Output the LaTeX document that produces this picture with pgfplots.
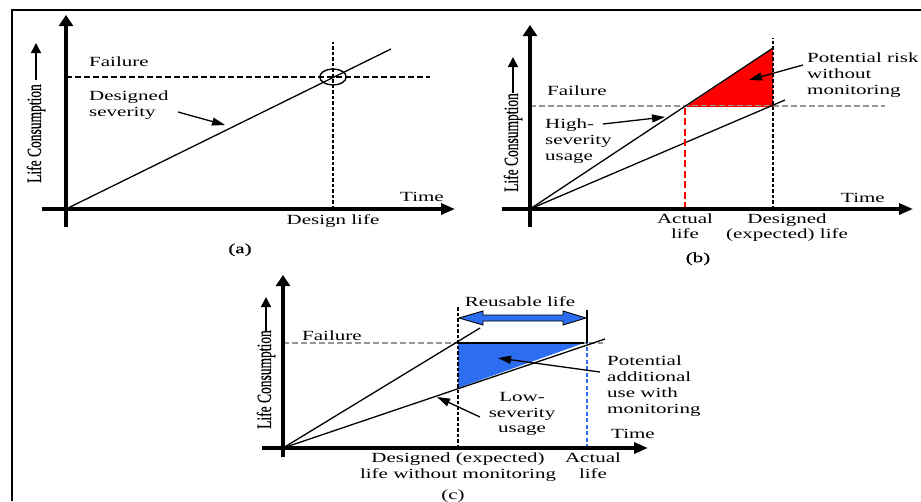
\documentclass[border=0pt]{standalone}
\usepackage{pgfplots}
\pgfplotsset{compat=1.18}
\usepackage{graphicx}
\usepackage{fontspec}
\setmainfont{Liberation Serif}
\newfontfamily\heavy[FakeBold=0.9]{Liberation Serif}
\newfontfamily\medium[FakeBold=0.4]{Liberation Serif}
\usetikzlibrary{arrows.meta}
\definecolor{myblue}{RGB}{45,110,240}
\definecolor{mygray}{RGB}{150,150,150}
\newcommand\SX{1.5}
\newcommand\TL[1]{\scalebox{\SX}[1]{\fontsize{14}{16}\selectfont\begin{tabular}{@{}l@{}}#1\end{tabular}}}
\newcommand\TC[1]{\scalebox{\SX}[1]{\fontsize{14}{15.5}\selectfont\begin{tabular}{@{}c@{}}#1\end{tabular}}}
\newcommand\YL{\scalebox{\SX}[1]{\rotatebox{90}{\medium\fontsize{13.5}{14}\selectfont Life Consumption}}}
\tikzset{lab/.style={inner sep=0pt}}
\pgfplotsset{
  panel/.style={scale only axis, axis lines=none, clip=false,
    xmin=-30, xmax=400, ymin=-25, ymax=200, width=430pt, height=225pt,
    anchor=south west},
  axarrowx/.style={line width=3.2pt, no marks, -{Triangle[length=14pt,width=11pt]}},
  axarrowy/.style={line width=3.2pt, no marks, -{Triangle[length=11pt,width=14pt]}},
  thn/.style={black, line width=1.3pt, no marks},
  ann/.style={black, line width=1.3pt, no marks, -{Triangle[length=13pt,width=8pt]}},
  yarr/.style={black, line width=1.6pt, no marks, -{Triangle[length=10pt,width=10pt]}},
}
\begin{document}
\begin{tikzpicture}
% ---------------- panel (a) ----------------
\begin{axis}[panel, at={(36pt,-234pt)}, every node/.append style={font=\heavy}]
  \addplot[thn, line width=1.2pt, dash pattern=on 6pt off 3pt] coordinates {(0,132) (364,132)};
  \addplot[thn, line width=1.2pt, dash pattern=on 3.5pt off 2pt] coordinates {(267,0) (267,167)};
  \addplot[thn] coordinates {(0,0) (325,160)};
  \addplot[only marks, mark=o, mark size=8pt, mark options={xscale=1.65, line width=1.4pt, black}] coordinates {(267,132)};
  \addplot[axarrowy] coordinates {(0,-18) (0,194)};
  \addplot[axarrowx] coordinates {(-24,0) (389,0)};
  \addplot[ann] coordinates {(112,97) (159,84)};
  \addplot[yarr] coordinates {(-30,129) (-30,166)};
  \node[lab] at (axis cs:-30,75.5) {\YL};
  \node[lab, anchor=west] at (axis cs:23,146) {\TL{Failure}};
  \node[lab, anchor=west] at (axis cs:23,103.5) {\TL{Designed\\severity}};
  \node[lab] at (axis cs:356,11) {\TL{Time}};
  \node[lab] at (axis cs:267,-12) {\TL{Design life}};
  \node[lab, font=\medium] at (axis cs:174,-41) {\TL{(a)}};
\end{axis}
% ---------------- panel (b) ----------------
\begin{axis}[panel, at={(500pt,-234pt)}, every node/.append style={font=\heavy}]
  \addplot[fill=red, draw=none] coordinates {(157,103) (243,161) (243,103)} -- cycle;
  \addplot[mygray, line width=1.2pt, no marks, dash pattern=on 6pt off 3pt] coordinates {(0,103) (355,103)};
  \addplot[red, line width=1pt, no marks] coordinates {(157,103) (243,103)};
  \addplot[thn] coordinates {(0,0) (243,161)};
  \addplot[thn] coordinates {(0,0) (255,109)};
  \addplot[red, line width=2.8pt, no marks, dash pattern=on 7pt off 3.5pt] coordinates {(155,0) (155,103)};
  \addplot[thn, line width=1.4pt, dash pattern=on 3.5pt off 2pt] coordinates {(243,0) (243,171)};
  \addplot[axarrowy] coordinates {(0,-18) (0,184)};
  \addplot[axarrowx] coordinates {(-28,0) (383,0)};
  \addplot[ann] coordinates {(73,85) (135,92)};
  \addplot[ann] coordinates {(273,144) (219,129)};
  \addplot[yarr] coordinates {(-17,116) (-17,152)};
  \node[lab] at (axis cs:-17,66.5) {\YL};
  \node[lab, anchor=west] at (axis cs:17,117) {\TL{Failure}};
  \node[lab, anchor=west] at (axis cs:15,68) {\TL{High-\\severity\\usage}};
  \node[lab, anchor=west] at (axis cs:277,134) {\TL{Potential risk\\without\\monitoring}};
  \node[lab] at (axis cs:333,10) {\TL{Time}};
  \node[lab] at (axis cs:155,-19) {\TC{Actual\\life}};
  \node[lab] at (axis cs:257,-19) {\TC{Designed\\(expected) life}};
  \node[lab, font=\medium] at (axis cs:168,-50) {\TL{(b)}};
\end{axis}
% ---------------- panel (c) ----------------
\begin{axis}[panel, at={(253pt,-473pt)}, every node/.append style={font=\medium}]
  \addplot[fill=myblue, draw=none] coordinates {(175,105) (301,105) (175,60)} -- cycle;
  \addplot[mygray, line width=1.1pt, no marks, dash pattern=on 6pt off 3pt] coordinates {(0,105) (320,105)};
  \addplot[thn] coordinates {(175,105) (301,105)};
  \addplot[thn] coordinates {(0,0) (197,120)};
  \addplot[thn] coordinates {(0,0) (322,109)};
  \addplot[thn, line width=1.4pt, dash pattern=on 3.5pt off 2pt] coordinates {(175,0) (175,143)};
  \addplot[myblue, line width=2.3pt, no marks, dash pattern=on 4pt off 2.5pt] coordinates {(304,0) (304,105)};
  \addplot[thn, line width=1.5pt] coordinates {(304,105) (304,138)};
  \addplot[fill=myblue, draw=black, line width=0.9pt] coordinates {(176,130) (200,137) (200,133) (280,133) (280,137) (303,130) (280,123) (280,127) (200,127) (200,123)} -- cycle;
  \addplot[axarrowy] coordinates {(0,-9) (0,173)};
  \addplot[axarrowx] coordinates {(-21,0) (365,0)};
  \addplot[ann] coordinates {(197,31) (154,51)};
  \addplot[ann] coordinates {(317,76) (215,90)};
  \addplot[yarr] coordinates {(-17,117) (-17,151)};
  \node[lab] at (axis cs:-17,68.5) {\YL};
  \node[lab] at (axis cs:237,145) {\TL{Reusable life}};
  \node[lab, anchor=west] at (axis cs:19,111) {\TL{Failure}};
  \node[lab] at (axis cs:239,34) {\TC{Low-\\severity\\usage}};
  \node[lab, anchor=west] at (axis cs:324,62) {\TL{Potential\\additional\\use with\\monitoring}};
  \node[lab] at (axis cs:350,13) {\TL{Time}};
  \node[lab] at (axis cs:175,-19.5) {\TC{Designed (expected)\\life without monitoring}};
  \node[lab] at (axis cs:310,-19.5) {\TC{Actual\\life}};
  \node[lab] at (axis cs:170,-48) {\TL{(c)}};
\end{axis}
\draw[line width=1.8pt] (12pt,-501pt) -- (12pt,-10pt) -- (921pt,-10pt);
\pgfresetboundingbox
\path[use as bounding box] (0pt,0pt) rectangle (921pt,-501pt);
\end{tikzpicture}
\end{document}
